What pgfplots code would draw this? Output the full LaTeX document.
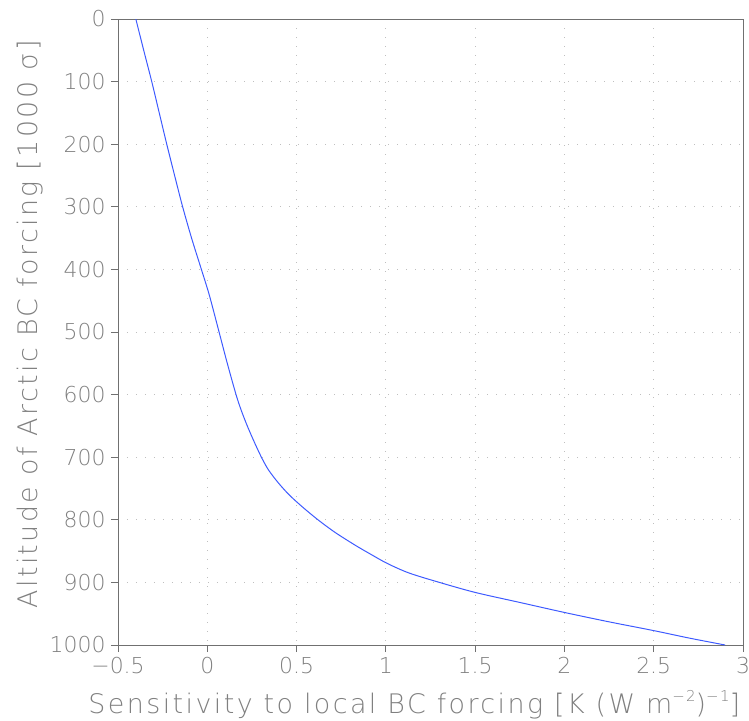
\documentclass[border=0pt]{standalone}
\usepackage{fontspec}
\setmainfont{DejaVu Sans ExtraLight}
\newfontfamily\labfont[LetterSpace=9]{DejaVu Sans ExtraLight}
\usepackage{pgfplots}
\pgfplotsset{compat=1.18}
\definecolor{txt}{HTML}{808080}
\definecolor{frame}{HTML}{707070}
\definecolor{curve}{HTML}{3D5AFF}
\newcommand\sups[1]{\raisebox{0.42em}{\fontsize{15}{15}\selectfont #1}}
\begin{document}
\begin{tikzpicture}
\begin{axis}[
    scale only axis,
    width=625bp, height=626bp,
    xmin=-0.5, xmax=3, ymin=0, ymax=1000,
    y dir=reverse,
    xtick={-0.5,0,0.5,1,1.5,2,2.5,3},
    xticklabels={−0.5,0,0.5,1,1.5,2,2.5,3},
    ytick={0,100,200,300,400,500,600,700,800,900,1000},
    yticklabels={0,100,200,300,400,500,600,700,800,900,1000},
    tick align=outside, tick pos=left,
    major tick length=7bp,
    axis line style={frame, line width=0.9pt},
    tick style={frame, line width=0.9pt},
    grid=major,
    grid style={color=black!25, line width=0.9pt, dash pattern=on 1.2bp off 7.8bp},
    ticklabel style={font=\fontsize{22}{22}\selectfont, color=txt},
    xticklabel style={yshift=-2bp},
    yticklabel style={xshift=-2bp},
    xlabel={Sensitivity to local BC forcing [K (W m\sups{−2})\sups{−1}]},
    ylabel={Altitude of Arctic BC forcing [1000 σ]},
    label style={font=\labfont\fontsize{27}{27}\selectfont, color=txt},
    xlabel style={at={(axis description cs:0.474,0)}, anchor=base, yshift=-68bp},
    ylabel style={at={(axis description cs:0,0.512)}, anchor=base, yshift=80bp},
]
\addplot[curve, line width=1pt, smooth] coordinates {
(-0.400,0) (-0.356,50) (-0.311,100) (-0.269,150) (-0.227,200)
(-0.183,250) (-0.138,300) (-0.088,350) (-0.033,400) (0.000,430)
(0.020,450) (0.066,500) (0.112,550) (0.161,600) (0.190,625)
(0.224,650) (0.262,675) (0.303,700) (0.342,720) (0.395,740)
(0.458,760) (0.535,780) (0.620,800) (0.715,820) (0.825,840)
(0.915,855) (1.010,870) (1.130,885) (1.300,900) (1.500,916)
(1.750,932) (2.000,948) (2.250,963) (2.500,977) (2.700,989)
(2.900,1000)
};
\end{axis}
\pgfresetboundingbox
\useasboundingbox (current axis.south west) ++(-118bp,-76bp) rectangle ++(749bp,721bp);
\end{tikzpicture}
\end{document}
